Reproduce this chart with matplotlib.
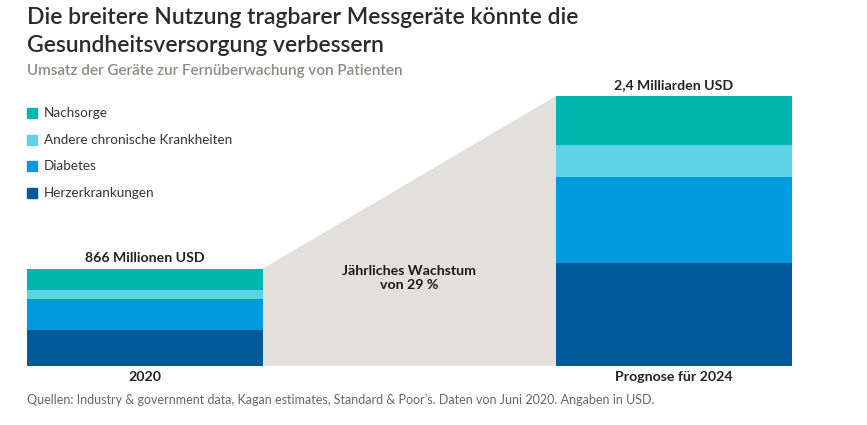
import matplotlib.pyplot as plt
from matplotlib.patches import Rectangle

# data (Mio. USD)
years = ["2020", "Prognose für 2024"]
categories = ["Herzerkrankungen", "Diabetes", "Andere chronische Krankheiten", "Nachsorge"]
herz = [316, 916]
diabetes = [283, 764]
andere = [80, 284]
nachsorge = [187, 436]
totals_label = ["866 Millionen USD", "2,4 Milliarden USD"]
colors = ["#005A9C", "#009ADE", "#5FD3E6", "#00B5AD"]

plt.rcParams['font.family'] = ['Lato', 'DejaVu Sans']

W, H = 867, 425
fig = plt.figure(figsize=(W / 100, H / 100), dpi=100)

# axes placed so the bars land where they are in the picture
ax = fig.add_axes([27 / W, (H - 366) / H, (792 - 27) / W, 270 / H])
bw = 0.446
ax.set_xlim(-bw / 2, 1 + bw / 2)
ax.set_ylim(0, 2400)
ax.axis("off")

series = [herz, diabetes, andere, nachsorge]
totals = [sum(s[i] for s in series) for i in range(2)]

# grey growth wedge between the bars
ax.fill([bw / 2, 1 - bw / 2, 1 - bw / 2, bw / 2],
        [totals[0], totals[1], 0, 0], color="#E3E0DB", lw=0, zorder=1)

x = [0, 1]
bottom = [0, 0]
for s, c in zip(series, colors):
    ax.bar(x, s, bw, bottom=bottom, color=c, lw=0, zorder=2)
    bottom = [b + v for b, v in zip(bottom, s)]

for i in range(2):
    ax.text(x[i], totals[i] + 40, totals_label[i], ha="center", va="bottom",
            fontsize=10.2, fontweight="bold", color="#222222")
    ax.text(x[i], -45, years[i], ha="center", va="top",
            fontsize=10.2, fontweight="bold", color="#222222")

ax.text(0.5, 780, "Jährliches Wachstum\nvon 29 %", ha="center", va="center",
        fontsize=10.2, fontweight="bold", color="#1a1a1a", linespacing=1.2)

# titles
fig.text(27 / W, 1 - 18 / H, "Die breitere Nutzung tragbarer Messgeräte könnte die",
         fontsize=16.5, fontweight="semibold", color="#2b2b2b", va="center")
fig.text(27 / W, 1 - 45 / H, "Gesundheitsversorgung verbessern",
         fontsize=16.5, fontweight="semibold", color="#2b2b2b", va="center")
fig.text(27 / W, 1 - 71 / H, "Umsatz der Geräte zur Fernüberwachung von Patienten",
         fontsize=11, fontweight="semibold", color="#8E8A86", va="center")

# legend, top to bottom
leg_y = [113, 140, 166, 193]
for name, c, yy in zip(categories[::-1], colors[::-1], leg_y):
    fig.patches.append(Rectangle((27 / W, 1 - (yy + 5) / H), 10 / W, 10 / H,
                                 transform=fig.transFigure, color=c))
    fig.text(44 / W, 1 - yy / H, name, fontsize=9.7, color="#333333", va="center")

fig.text(27 / W, 1 - 400 / H,
         "Quellen: Industry & government data, Kagan estimates, Standard & Poor\u2019s. "
         "Daten von Juni 2020. Angaben in USD.",
         fontsize=9, color="#666666", va="center")

fig.savefig("out.png", dpi=100, facecolor="white")
